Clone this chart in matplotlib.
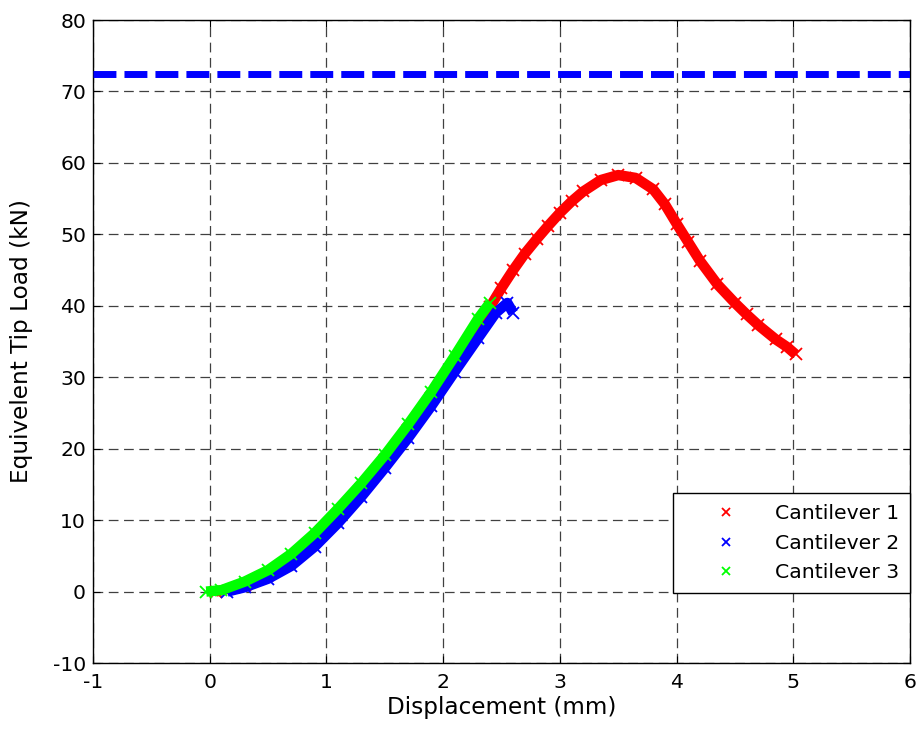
import matplotlib
matplotlib.use('Agg')
import matplotlib.pyplot as plt

plt.rcParams['font.family'] = ['DejaVu Sans']
plt.rcParams['axes.unicode_minus'] = False
plt.rcParams['lines.scale_dashes'] = False

# values
disp_1 = [0.05, 0.3, 0.5, 0.7, 0.9, 1.1, 1.3, 1.5, 1.7, 1.9, 2.1, 2.3, 2.4,
          2.5, 2.6, 2.7, 2.8, 2.9, 3.0, 3.1, 3.2, 3.35, 3.5, 3.65, 3.8, 3.9,
          4.0, 4.1, 4.2, 4.35, 4.5, 4.6, 4.7, 4.85, 4.95, 5.02]
load_1 = [0, 0.9, 2.3, 4.4, 7.3, 10.7, 14.4, 18.4, 22.6, 27.1, 32, 37, 39.8,
          42.5, 45, 47.3, 49.3, 51.2, 53, 54.6, 56, 57.6, 58.3, 57.9, 56.3, 54.2,
          51.5, 48.9, 46.3, 43, 40.4, 38.8, 37.3, 35.3, 34.2, 33.2]

disp_2 = [0.15, 0.3, 0.5, 0.7, 0.9, 1.1, 1.3, 1.5, 1.7, 1.9, 2.1, 2.3, 2.45,
          2.55, 2.6]
load_2 = [0, 0.6, 1.8, 3.6, 6.3, 9.6, 13.3, 17.3, 21.5, 26, 30.8, 35.5, 39,
          40.4, 39]

disp_3 = [-0.03, 0.1, 0.3, 0.5, 0.7, 0.9, 1.1, 1.3, 1.5, 1.7, 1.9, 2.1, 2.3,
          2.4]
load_3 = [0, 0.2, 1.4, 3.0, 5.3, 8.2, 11.6, 15.2, 19.1, 23.4, 28, 33, 38.2,
          40.4]

limit_load = 72.4

series = [
    ('Cantilever 1', disp_1, load_1, '#ff0000'),
    ('Cantilever 2', disp_2, load_2, '#0000ff'),
    ('Cantilever 3', disp_3, load_3, '#00ff00'),
]

x_ticks = list(range(-1, 7))
y_ticks = list(range(-10, 81, 10))

fig = plt.figure(figsize=(9.19, 7.31), dpi=100)
ax = fig.add_axes([0.1012, 0.093, 0.8890, 0.8796])

ax.axhline(limit_load, color='#0000ff', lw=5, dashes=(16.5, 5.8), zorder=3)

for name, xs, ys, col in series:
    ax.plot(xs, ys, color=col, lw=7.5, solid_capstyle='butt',
            solid_joinstyle='round', zorder=4)
    ax.plot(xs, ys, 'x', color=col, ms=9, mew=1.3, label=name, zorder=4)

ax.set_xlim(-1, 6)
ax.set_ylim(-10, 80)
ax.set_xticks(x_ticks)
ax.set_yticks(y_ticks)
ax.tick_params(direction='in', top=True, right=True, length=5, width=0.8,
               labelsize=14.7)
ax.tick_params(axis='x', pad=7)
ax.tick_params(axis='y', pad=5)
ax.grid(True, color='#404040', lw=0.9, dashes=(7, 4))
ax.set_axisbelow(True)
for s in ax.spines.values():
    s.set_linewidth(1.0)

ax.set_xlabel('Displacement (mm)', fontsize=16.7, labelpad=3)
ax.set_ylabel('Equivelent Tip Load (kN)', fontsize=16.7)
ax.yaxis.set_label_coords(-0.073, 0.5)

leg = ax.legend(loc='lower right', bbox_to_anchor=(1.0, 0.109), borderaxespad=0,
                fontsize=14.7, fancybox=False, framealpha=1, edgecolor='black',
                borderpad=0.52, handlelength=4.16, handletextpad=0.32,
                labelspacing=0.52, markerscale=0.7)
leg.get_frame().set_linewidth(1.0)

fig.savefig('out.png', dpi=100)
